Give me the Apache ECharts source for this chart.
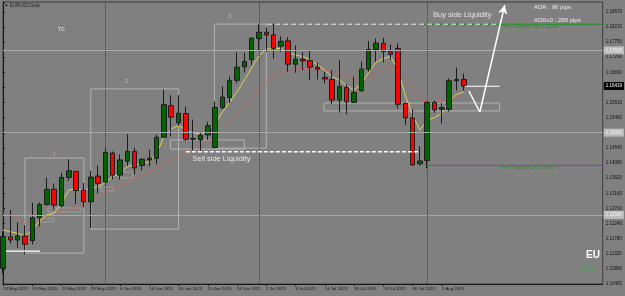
<!DOCTYPE html>
<html><head><meta charset="utf-8">
<script src="https://cdn.jsdelivr.net/npm/echarts@6/dist/echarts.min.js"></script>
<style>html,body{margin:0;padding:0;background:#808080;}#c{width:625px;height:296px;}</style>
</head><body><div id="c"></div>
<script>
// ---------- data ----------
const dates = ['13 May 2025','14 May 2025','15 May 2025','16 May 2025','19 May 2025','20 May 2025','21 May 2025','22 May 2025','23 May 2025','26 May 2025','27 May 2025','28 May 2025','29 May 2025','30 May 2025',
 '2 Jun 2025','3 Jun 2025','4 Jun 2025','5 Jun 2025','6 Jun 2025','9 Jun 2025','10 Jun 2025','11 Jun 2025','12 Jun 2025','13 Jun 2025','16 Jun 2025','17 Jun 2025','18 Jun 2025','19 Jun 2025','20 Jun 2025','23 Jun 2025','24 Jun 2025','25 Jun 2025','26 Jun 2025','27 Jun 2025','30 Jun 2025',
 '1 Jul 2025','2 Jul 2025','3 Jul 2025','4 Jul 2025','7 Jul 2025','8 Jul 2025','9 Jul 2025','10 Jul 2025','11 Jul 2025','14 Jul 2025','15 Jul 2025','16 Jul 2025','17 Jul 2025','18 Jul 2025','21 Jul 2025','22 Jul 2025','23 Jul 2025','24 Jul 2025','25 Jul 2025','28 Jul 2025','29 Jul 2025','30 Jul 2025','31 Jul 2025',
 '1 Aug 2025','4 Aug 2025','5 Aug 2025','6 Aug 2025','7 Aug 2025','8 Aug 2025'];
const opens  = [1.1088,1.1183,1.1174,1.1186,1.1172,1.1241,1.1282,1.1328,1.1278,1.1364,1.1382,1.1326,1.1290,1.1368,
 1.1350,1.1438,1.1371,1.1413,1.1443,1.1400,1.1417,1.1422,1.1486,1.1582,1.1530,1.1558,1.1480,1.1478,1.1493,1.1455,1.1576,1.1607,1.1659,1.1700,1.1722,
 1.1786,1.1805,1.1797,1.1763,1.1779,1.1708,1.1723,1.1719,1.1699,1.1668,1.1662,1.1599,1.1637,1.1592,1.1627,1.1693,1.1753,1.1772,1.1746,1.1756,1.1589,1.1545,1.1405,
 1.1415,1.1592,1.1571,1.1571,1.1658,1.1662];
const closes = [1.1184,1.1174,1.1186,1.1161,1.1241,1.1282,1.1328,1.1280,1.1364,1.1384,1.1324,1.1290,1.1365,1.1346,
 1.1440,1.1371,1.1417,1.1443,1.1393,1.1419,1.1422,1.1486,1.1585,1.1547,1.1559,1.1480,1.1482,1.1493,1.1521,1.1577,1.1608,1.1658,1.1699,1.1716,1.1787,
 1.1805,1.1797,1.1756,1.1778,1.1708,1.1723,1.1718,1.1699,1.1693,1.1663,1.1599,1.1640,1.1594,1.1622,1.1693,1.1753,1.1772,1.1746,1.1738,1.1586,1.1545,1.1402,1.1414,
 1.1592,1.1569,1.1576,1.1658,1.1662,1.16419];
const lows   = [1.1072,1.1163,1.1150,1.1130,1.1160,1.1215,1.1277,1.1267,1.1273,1.1354,1.1283,1.1273,1.1210,1.1315,
 1.1342,1.1358,1.1357,1.1399,1.1373,1.1385,1.1397,1.1403,1.1486,1.1489,1.1520,1.1474,1.1447,1.1445,1.1478,1.1452,1.1570,1.1590,1.1650,1.1683,1.1705,
 1.1750,1.1745,1.1725,1.1745,1.1685,1.1682,1.1690,1.1660,1.1662,1.1650,1.1587,1.1561,1.1556,1.1590,1.1625,1.1685,1.1716,1.1713,1.1722,1.1574,1.1523,1.1400,1.1400,
 1.1391,1.1560,1.1528,1.1564,1.1628,1.1628];
const highs  = [1.1199,1.1265,1.1228,1.1219,1.1287,1.1288,1.1363,1.1346,1.1378,1.1419,1.1384,1.1347,1.1384,1.1400,
 1.1454,1.1443,1.1434,1.1495,1.1455,1.1423,1.1448,1.1494,1.1631,1.1614,1.1614,1.1579,1.1540,1.1503,1.1533,1.1595,1.1641,1.1670,1.1744,1.1743,1.1790,
 1.1830,1.1820,1.1831,1.1793,1.1790,1.1765,1.1745,1.1748,1.1713,1.1685,1.1690,1.1721,1.1647,1.1670,1.1716,1.1779,1.1786,1.1788,1.1768,1.1771,1.1589,1.1571,1.1459,
 1.1594,1.1597,1.1590,1.1665,1.1698,1.1680];
const maFast = [1.1204,1.1199,1.1194,1.1186,1.1204,1.1232,1.1250,1.1255,1.1285,1.1326,1.1328,1.1326,1.1331,1.1336,
 1.1348,1.1366,1.1376,1.1397,1.1402,1.1405,1.1412,1.1437,1.1487,1.1511,1.1522,1.1508,1.1499,1.1496,1.1504,1.1528,1.1563,1.1593,1.1624,1.1660,1.1697,
 1.1733,1.1754,1.1756,1.1756,1.1743,1.1736,1.1731,1.1721,1.1706,1.1690,1.1669,1.1660,1.1642,1.1630,1.1648,1.1684,1.1713,1.1726,1.1731,1.1690,1.1614,1.1554,1.1508,
 1.1538,1.1546,1.1559,1.1596,1.1616,1.1624];
const maSlow = [1.1253,1.1247,1.1240,1.1224,1.1226,1.1235,1.1243,1.1253,1.1265,1.1267,1.1275,1.1283,1.1295,1.1305,
 1.1321,1.1331,1.1341,1.1351,1.1363,1.1369,1.1380,1.1393,1.1405,1.1417,1.1429,1.1441,1.1452,1.1462,1.1473,1.1487,1.1508,1.1532,1.1557,1.1578,1.1602,
 1.1630,1.1657,1.1672,1.1684,1.1690,1.1694,1.1696,1.1697,1.1697,1.1694,1.1686,1.1680,1.1671,1.1662,1.1656,1.1665,1.1680,1.1693,1.1700,1.1690,1.1660,1.1630,1.1599,
 1.1596,1.1594,1.1599,1.1606,1.1611,1.1614];
const yTickLabels = ['1.10400','1.10860','1.11320','1.11780','1.12240','1.12700','1.13160','1.13620','1.14080','1.14540','1.14990','1.15460','1.15910','1.16370','1.16830','1.17290','1.17750','1.18210','1.18670'];
const roundLevels = [1.175, 1.15, 1.125];
const lastPrice = 1.16419;
const separatorBars = [14, 35, 58];
// boxes: [barFrom, priceTop, barTo, priceBottom]
const boxes = [[3.0,1.1423,11.05,1.1134],[12.0,1.1633,24.0,1.1207],[28.9,1.1830,36.0,1.1453],[43.9,1.1590,67.9,1.1566],[22.9,1.1478,33.0,1.1450]];
const smallBoxes = [[6.14,1.12710,10.64,1.12589],[4.91,1.12391,6.96,1.12285],[13.37,1.13348,15.15,1.13227],[15.83,1.13804,17.74,1.13622]];
// white levels: [barFrom, barTo, price]
const sellSide = [25.0, 56.9, 1.1442];
const buySide = [36.1, 67.9, 1.18296];
const whiteSolid = [[0.4, 5.05, 1.1140],[63.2, 67.9, 1.1641]];
const monthHigh = [57.5, 82, 1.18296];
const monthLow = [58.0, 82, 1.14007];
const arrowPath = [[63.7, 1.16266],[65.2, 1.15628],[68.6, 1.18880]];
const annoTexts = [
  {name:'Sell side Liquidity', value:[25.9, 1.1420]},
  {name:'Buy side Liquidity', value:[58.8, 1.1858]},
  {name:'Prev / Monthly High 1.18296', value:[72.0, 1.1822]},
  {name:'Prev / Monthly Low 1.14007', value:[71.8, 1.1392]},
  {name:'1', value:[7.0, 1.1432]},
  {name:'2', value:[16.9, 1.1654]},
  {name:'3', value:[31.0, 1.1853]},
  {name:'TG', value:[8.0, 1.1812]}
];

// ---------- build ----------
const FONT = 'Liberation Sans';
const yMin = 1.104, yStep = 0.0045944, yMax = 1.18971;
const nSlots = 83;
const cats = dates.concat(Array.from({length: nSlots - dates.length}, (_, k) => 'pad' + k));
const showLbl = (i) => i < dates.length && i % 4 === 0;
const ohlc = dates.map((d, i) => [opens[i], closes[i], lows[i], highs[i]]);

const textStyle = {
  'Sell side Liquidity': {fontSize:7.5, color:'#ffffff', pos:'right'},
  'Buy side Liquidity': {fontSize:7.5, color:'#ffffff', pos:'right'},
  'Prev / Monthly High 1.18296': {fontSize:4.6, color:'#1d8f1d', pos:'inside'},
  'Prev / Monthly Low 1.14007': {fontSize:4.6, color:'#1d8f1d', pos:'inside'},
  '1': {fontSize:5, color:'#d9bcc8', pos:'inside'},
  '2': {fontSize:5, color:'#d0d0d0', pos:'inside'},
  '3': {fontSize:5, color:'#d0d0d0', pos:'inside'},
  'TG': {fontSize:5, color:'#e0e0e0', pos:'inside', bold:true}
};

const lineSeries = (pts, color, width, type, z) => ({
  type:'line', xAxisIndex:1, yAxisIndex:0, data:pts, symbol:'none', silent:true, z:z,
  lineStyle:{color:color, width:width, type:type}, animation:false
});
const rectPts = (b) => [[b[0],b[1]],[b[2],b[1]],[b[2],b[3]],[b[0],b[3]],[b[0],b[1]]];

const series = [];
series.push({type:'line', xAxisIndex:0, data:maSlow, symbol:'none', z:2, lineStyle:{color:'#b86a66', width:1}});
series.push({type:'line', xAxisIndex:0, data:maFast, symbol:'none', z:2, lineStyle:{color:'#d9d650', width:1}});
boxes.forEach(b => series.push(lineSeries(rectPts(b), '#b3b3b3', 1, 'solid', 1)));
smallBoxes.forEach(b => series.push(lineSeries(rectPts(b), '#a4a4a4', 0.8, 'solid', 1)));
series.push({
  type:'candlestick', xAxisIndex:0, yAxisIndex:0, data:ohlc, barWidth:5, z:3,
  itemStyle:{color:'#006400', color0:'#ff0000', borderColor:'#1c1c1c', borderColor0:'#1c1c1c', borderColorDoji:'#1c1c1c', borderWidth:1},
  markLine:{silent:true, symbol:'none', animation:false, precision:6, data:
    roundLevels.map(v => ({yAxis:v, lineStyle:{color:'#a9a9a9', width:1, type:'solid'},
      label:{show:true, position:'end', distance:1, formatter:v.toFixed(5), backgroundColor:'#bcbcbc', color:'#f2f2f2', fontSize:4.5, fontFamily:FONT, padding:[1.5,2]}}))
    .concat([{yAxis:lastPrice, lineStyle:{color:'rgba(0,0,0,0)', width:1},
      label:{show:true, position:'end', distance:1, formatter:lastPrice.toFixed(5), backgroundColor:'#000000', color:'#ffffff', fontSize:4.5, fontFamily:FONT, padding:[1.5,2]}}])
  }
});
// separators
series.push({type:'line', xAxisIndex:1, data:[], z:1,
  markLine:{silent:true, symbol:'none', animation:false, precision:4, label:{show:false},
    lineStyle:{color:'#3a3a3a', width:1, type:[1,1]}, data: separatorBars.map(b => ({xAxis:b}))}});
// green monthly lines
series.push(lineSeries([[monthHigh[0],monthHigh[2]],[monthHigh[1],monthHigh[2]]], '#2a8a2a', 1, 'solid', 4));
series.push(lineSeries([[monthLow[0],monthLow[2]],[monthLow[1],monthLow[2]]], '#2a8a2a', 1, 'solid', 4));
// white liquidity lines
series.push(lineSeries([[sellSide[0],sellSide[2]],[sellSide[1],sellSide[2]]], '#ffffff', 1.6, [4,2], 5));
series.push(lineSeries([[buySide[0],buySide[2]],[buySide[1],buySide[2]]], '#e6e6e6', 1, [5,3], 5));
whiteSolid.forEach(s => series.push(lineSeries([[s[0],s[2]],[s[1],s[2]]], '#ffffff', 1.2, 'solid', 5)));
// arrow
series.push(Object.assign(lineSeries(arrowPath.slice(0,2), '#ffffff', 1.5, 'solid', 5), {
  markLine:{silent:true, animation:false, precision:6, symbol:['none','arrow'], symbolSize:[7,9], label:{show:false},
    lineStyle:{color:'#ffffff', width:1.5, type:'solid'},
    data:[[{coord:arrowPath[1]},{coord:arrowPath[2]}]]}
}));
// annotation texts
series.push({type:'scatter', xAxisIndex:1, yAxisIndex:0, symbolSize:0, z:6, silent:true,
  data: annoTexts.map(t => {
    const s = textStyle[t.name];
    return {name:t.name, value:t.value, label:{show:true, position:s.pos, distance:0, formatter:'{b}', color:s.color, fontSize:s.fontSize, fontFamily:FONT, fontWeight:s.bold?'bold':'normal'}};
  })
});

const chart = echarts.init(document.getElementById('c'), null, {renderer:'canvas'});
chart.setOption({
  backgroundColor:'#808080',
  animation:false,
  textStyle:{fontFamily:FONT},
  grid:{left:2, right:22, top:2, bottom:12, show:true, borderColor:'#3c3c3c', borderWidth:1, backgroundColor:'transparent'},
  xAxis:[
    {type:'category', data:cats, boundaryGap:false,
     axisLine:{show:true, lineStyle:{color:'#1a1a1a'}},
     axisTick:{show:true, length:2, interval:(i)=>showLbl(i), lineStyle:{color:'#1a1a1a'}},
     axisLabel:{show:true, interval:(i)=>showLbl(i), align:'left', fontSize:4.3, color:'#121212', margin:3, fontFamily:FONT},
     splitLine:{show:false}},
    {type:'value', min:0, max:nSlots-1, show:false, splitLine:{show:false}}
  ],
  yAxis:[{type:'value', position:'right', min:yMin, max:yMax, interval:yStep,
    axisLine:{show:true, lineStyle:{color:'#1a1a1a'}},
    axisTick:{show:true, length:2, lineStyle:{color:'#1a1a1a'}},
    axisLabel:{show:true, fontSize:4.5, color:'#121212', margin:3, fontFamily:FONT,
      formatter:(v)=>{const k=Math.round((v-yMin)/yStep); return (Math.abs(v-(yMin+k*yStep))<1e-6 && yTickLabels[k]) ? yTickLabels[k] : '';}},
    splitLine:{show:false}}],
  graphic:[
    {type:'text', left:4, top:3, z:10, style:{text:'\u25BC EURUSD,Daily', fill:'#1e1e1e', font:'4.5px "Liberation Sans"'}},
    {type:'text', left:534, top:4.5, z:10, style:{text:'ADR : 96 pips', fill:'#e8e8e8', font:'6px "Liberation Sans"'}},
    {type:'text', left:534, top:17, z:10, style:{text:'ADRx3 : 288 pips', fill:'#e8e8e8', font:'6px "Liberation Sans"'}},
    {type:'text', left:586, top:250.5, z:10, style:{text:'EU', fill:'#ffffff', font:'bold 10px "Liberation Sans"'}},
    {type:'text', left:582, top:265, z:10, style:{text:'0.0', fill:'#3cbf3c', font:'8px "Liberation Sans"'}}
  ],
  series:series
});
</script></body></html>
